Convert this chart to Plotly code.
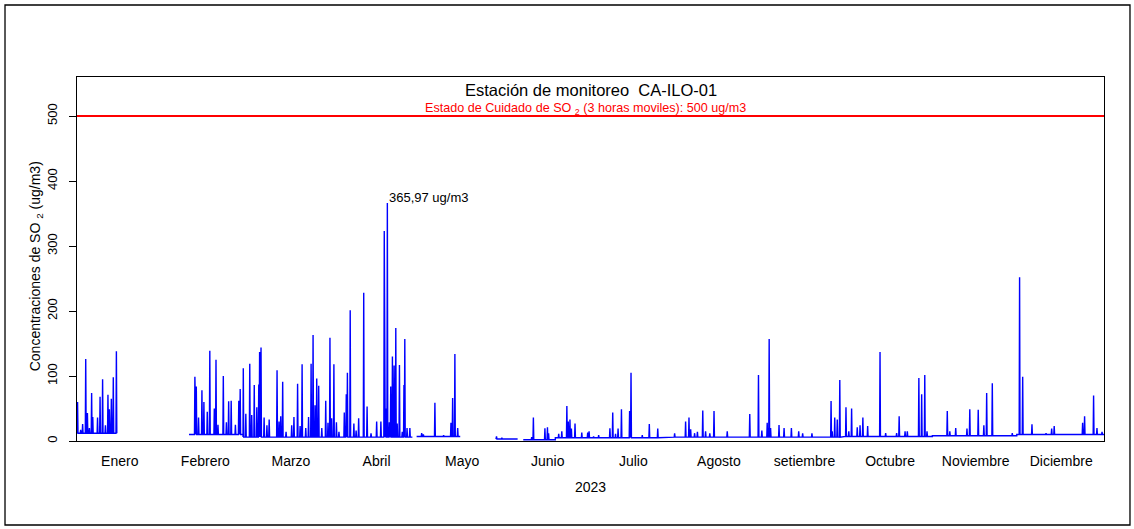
import plotly.graph_objects as go

# ---- data (day of year 2023, ug/m3) ----
months = ["Enero", "Febrero", "Marzo", "Abril", "Mayo", "Junio", "Julio",
          "Agosto", "setiembre", "Octubre", "Noviembre", "Diciembre"]

# baseline segments (start day, end day, baseline value)
seg_start = [0.0, 39.8, 59.0, 120.7, 148.9, 158.6, 170.0, 212.0, 273.0, 304.0, 334.0]
seg_end   = [14.2, 59.0, 119.2, 136.2, 156.6, 170.0, 212.0, 273.0, 304.0, 334.0, 365.0]
seg_base  = [12, 10, 6, 7, 3, 2, 5, 6, 7, 8, 10]

# hourly peaks (day of year, value)
spike_day = [
    0.2, 1.3, 2.0, 3.1, 3.7, 4.4, 5.2, 5.6, 7.3, 8.2, 9.1, 10.1, 11.0, 11.5, 12.2, 12.9, 14.0,
    41.9, 42.4, 43.2, 44.4, 45.1, 46.3, 47.2, 48.8, 49.4, 50.1, 52.0, 53.1, 53.9, 54.8, 56.3,
    57.5, 58.0, 59.1, 60.0, 61.4, 62.1, 63.0, 63.9, 64.6, 64.9, 65.4, 66.5, 67.5, 68.3, 71.1,
    71.8, 72.4, 73.1, 74.3, 76.3, 77.1, 78.4, 79.3, 80.0, 81.3, 82.3, 83.2, 83.9, 84.6, 85.2,
    85.9, 87.0, 88.4, 89.2, 89.9, 90.5, 91.3, 92.2, 93.1, 95.0, 95.7, 96.1, 97.1, 98.4, 99.2,
    100.1, 101.9, 103.1, 104.5, 106.5, 108.0, 109.2, 109.7, 110.3, 111.0, 111.5, 112.1, 112.7,
    113.3, 113.8, 114.6, 115.6, 116.2, 116.5, 117.3, 118.3,
    122.5, 123.1, 125.1, 127.2, 130.3, 131.7, 132.9, 133.5, 134.3, 135.3,
    149.1, 151.0, 161.6, 162.2, 166.3, 167.2, 167.6, 171.2, 172.3, 174.1, 174.6, 175.2, 175.7,
    177.0, 179.4, 181.5, 182.0, 183.6, 185.4, 189.4, 190.4, 191.4, 192.3, 193.5, 196.4, 196.9,
    200.9, 203.4, 206.4, 212.4, 216.3, 217.5, 218.1, 219.5, 220.5, 222.4, 223.4, 224.9, 226.4,
    231.1, 239.1, 242.2, 243.4, 245.3, 246.0, 246.5, 249.5, 251.3, 253.9, 256.5, 257.9, 261.2,
    268.0, 268.4, 269.3, 270.2, 271.1, 273.3, 274.3, 275.3, 277.3, 278.3, 279.3, 281.0, 285.4,
    287.4, 291.3, 292.2, 294.3, 295.1, 299.2, 300.2, 301.3, 302.1, 309.3, 310.2, 312.3, 316.3,
    317.3, 320.3, 322.3, 323.3, 325.3, 332.4, 335.0, 336.1, 339.4, 344.4, 346.4, 347.3, 357.4,
    358.1, 361.3, 362.5, 364.3,
]
spike_val = [
    60, 17, 26, 126, 43, 20, 74, 37, 36, 68, 95, 24, 71, 49, 65, 98, 138,
    99, 84, 36, 78, 60, 45, 139, 50, 125, 25, 100, 29, 61, 62, 25,
    62, 80, 112, 42, 119, 40, 86, 52, 87, 137, 144, 36, 24, 33, 109,
    30, 38, 91, 14, 24, 37, 88, 23, 118, 20, 37, 119, 163, 55, 96,
    85, 20, 62, 28, 159, 35, 118, 29, 14, 44, 72, 105, 201, 27, 16,
    35, 228, 53, 12, 30, 30, 323, 50, 365.97, 29, 84, 130, 116,
    174, 27, 117, 14, 86, 157, 20, 20,
    12, 10, 8, 59, 9, 8, 28, 66, 134, 20,
    7, 5, 6, 36, 19.5, 21, 12, 11, 15, 54, 30, 33, 19,
    27, 13, 13, 15, 7, 9, 19.5, 44, 11, 19, 49, 46, 105,
    9, 26, 19, 12, 30, 36, 18, 12, 14, 47, 15, 12, 46,
    15, 41.5, 101.5, 16, 28, 157, 20, 24.6, 20, 20, 15, 12, 12,
    61.5, 15, 36, 33, 94, 52, 15, 50, 21, 24, 36, 23, 137,
    12, 12, 38, 15, 15, 97, 72, 101.5, 15, 46, 15, 20, 19,
    49, 48, 24, 74, 89, 12, 252, 99, 25.6, 12, 19, 23, 28,
    38, 70, 20, 14,
]

max_day, max_val = 110.3, 365.97
limit_val = 500

# ---- build the hourly-like trace from segments and peaks ----
W = 0.15
xs, ys = [], []
for i, (s, e, b) in enumerate(zip(seg_start, seg_end, seg_base)):
    xs.append(s); ys.append(b)
    pk = sorted((d, v) for d, v in zip(spike_day, spike_val) if s <= d < e)
    for d, v in pk:
        xs += [max(s, d - W), d, min(e, d + W)]
        ys += [b, v, b]
    xs.append(e); ys.append(b)
    if i + 1 < len(seg_start) and seg_start[i + 1] - e > 0.5:
        xs.append(None); ys.append(None)

FONT = "Liberation Sans, Arial, Helvetica, sans-serif"

fig = go.Figure()
fig.add_trace(go.Scatter(x=xs, y=ys, mode="lines",
                         line=dict(color="#0000FF", width=1.4),
                         hoverinfo="skip", showlegend=False))

fig.add_shape(type="line", xref="paper", x0=0, x1=1, yref="y", y0=limit_val, y1=limit_val,
              line=dict(color="#FF0000", width=2))
# outer frame of the picture
fig.add_shape(type="rect", xref="paper", yref="paper",
              x0=-0.0701, x1=1.0253, y0=-0.2308, y1=1.1978,
              line=dict(color="black", width=1.3))

tickvals = [(i + 0.5) * 365 / 12 for i in range(12)]

fig.update_layout(
    width=1134, height=529,
    margin=dict(l=77, r=30, t=77, b=88),
    paper_bgcolor="white", plot_bgcolor="white",
    font=dict(family=FONT, color="black"),
    xaxis=dict(range=[0, 365], tickvals=tickvals, ticktext=months,
               ticks="", showgrid=False, zeroline=False,
               showline=True, mirror=True, linecolor="black", linewidth=1,
               tickfont=dict(size=14), ticklabelstandoff=7),
    yaxis=dict(range=[0, 560], tickvals=[0, 100, 200, 300, 400, 500],
               ticks="outside", ticklen=7, tickcolor="black", tickwidth=1,
               tickangle=-90, showgrid=False, zeroline=False,
               showline=True, mirror=True, linecolor="black", linewidth=1,
               tickfont=dict(size=13), ticklabelstandoff=7),
    annotations=[
        dict(text="Estación de monitoreo  CA-ILO-01", xref="paper", yref="paper",
             x=0.5, y=0.964, xanchor="center", yanchor="middle",
             showarrow=False, font=dict(size=16.5)),
        dict(text="Estado de Cuidado de SO <sub>2</sub> (3 horas moviles): 500 ug/m3",
             xref="paper", yref="paper", x=0.495, y=0.912, xanchor="center", yanchor="middle",
             showarrow=False, font=dict(size=12.6, color="#FF0000")),
        dict(text="365,97 ug/m3", xref="x", yref="y", x=max_day, y=max_val + 8,
             xanchor="left", yanchor="middle", showarrow=False, font=dict(size=13)),
        dict(text="Concentraciones de SO <sub>2</sub> (ug/m3)", xref="paper", yref="paper",
             x=-0.0399, y=0.48, xanchor="center", yanchor="middle", textangle=-90,
             showarrow=False, font=dict(size=14)),
        dict(text="2023", xref="paper", yref="paper", x=0.5, y=-0.126,
             xanchor="center", yanchor="middle", showarrow=False, font=dict(size=14)),
    ],
)

fig.write_html("out.html", config={"displayModeBar": False},
               post_script="document.body.style.margin='0';")
